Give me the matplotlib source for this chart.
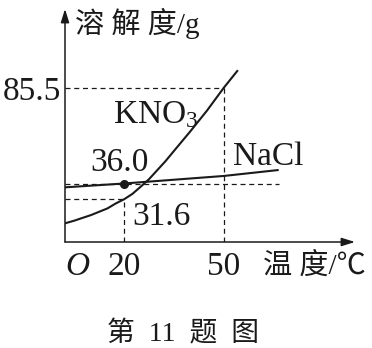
import numpy as np
import matplotlib
matplotlib.use("Agg")
import matplotlib.pyplot as plt

plt.rcParams["mathtext.default"] = "regular"

# solubility curves (schematic)
kno3_temp = [0, 5, 10, 15, 17.5, 20, 22.5, 25, 27.5, 30, 32.5, 35, 40, 45, 50, 54.3]
kno3_sol = [18.4, 20.8, 23.6, 27.0, 29.5, 31.6, 33.1, 35.1, 38.2, 42.9, 47.6, 52.8,
            63.1, 73.8, 85.5, 94.7]
nacl_temp = [0, 20, 50, 66.6]
nacl_sol = [34.8, 36.0, 39.9, 43.0]

# marked values
t_marks = [20, 50]
kno3_20, kno3_50, nacl_20 = 31.6, 85.5, 36.0

# the figure is a sketch: y axis is stretched between the marked values
y_knots = [10, 31.6, 36.0, 85.5, 126.4]
y_pos = [0, 42.7, 58.5, 154, 233]


def fwd(v):
    return np.interp(v, y_knots, y_pos)


def inv(p):
    return np.interp(p, y_pos, y_knots)


W, H = 372, 348
ink = "#1a1a1a"
serif = ["Liberation Serif", "Noto Sans CJK SC", "DejaVu Sans"]


def fp(x, y):
    # pixel position -> figure fraction
    return x / W, 1 - y / H


fig = plt.figure(figsize=(W / 100, H / 100), dpi=100)
ax = fig.add_axes([65 / W, 1 - 242 / H, (355 - 65) / W, (242 - 9) / H])
ax.set_yscale("function", functions=(fwd, inv))
xlo, xhi = 2.2, 89.6
ax.set_xlim(xlo, xhi)
ax.set_ylim(y_knots[0], y_knots[-1])
for s in ax.spines.values():
    s.set_visible(False)
ax.set_xticks([])
ax.set_yticks([])
ax.yaxis.set_minor_locator(matplotlib.ticker.NullLocator())

# axes with arrows
arrow = dict(arrowstyle="-|>,head_length=0.8,head_width=0.25", lw=1.1,
             color=ink, shrinkA=0, shrinkB=0, mutation_scale=10)
ax.annotate("", xy=(1, 0), xytext=(0, 0), xycoords="axes fraction", arrowprops=arrow)
ax.annotate("", xy=(0, 1), xytext=(0, 0), xycoords="axes fraction", arrowprops=arrow)

# guide lines
dash = dict(color=ink, lw=0.9, linestyle=(0, (4, 3)))
ax.plot([xlo, t_marks[1]], [kno3_50, kno3_50], **dash)
ax.plot([xlo, nacl_temp[-1]], [nacl_20, nacl_20], **dash)
ax.plot([xlo, t_marks[0]], [kno3_20, kno3_20], **dash)
ax.plot([t_marks[0], t_marks[0]], [y_knots[0], kno3_20], **dash)
ax.plot([t_marks[1], t_marks[1]], [y_knots[0], kno3_50], **dash)

# curves
ax.plot(kno3_temp, kno3_sol, color=ink, lw=1.5, solid_capstyle="butt", solid_joinstyle="round")
ax.plot(nacl_temp, nacl_sol, color=ink, lw=1.5, solid_capstyle="butt")
ax.plot([t_marks[0]], [nacl_20], "o", color=ink, ms=5.5)

# labels
fig.text(*fp(75, 33), "溶 解 度/g", fontsize=21, family=serif, color=ink)
fig.text(*fp(61, 100), "85.5", fontsize=24, family=serif, ha="right", color=ink)
fig.text(*fp(113, 123), "KNO$_3$", fontsize=24, family=serif, color=ink)
fig.text(*fp(90, 171), "36.0", fontsize=24, family=serif, color=ink)
fig.text(*fp(233, 165), "NaCl", fontsize=24, family=serif, color=ink)
fig.text(*fp(132, 225), "31.6", fontsize=24, family=serif, color=ink)
fig.text(*fp(65, 275), "O", fontsize=24, family=serif, style="italic", color=ink)
tx = ax.get_xaxis_transform()
for t in t_marks:
    ax.text(t, -33 / 233, str(t), transform=tx, fontsize=24,
            family=serif, ha="center", va="baseline", color=ink)
fig.text(*fp(263, 274), "温 度/℃", fontsize=21, family=serif, color=ink)
fig.text(*fp(183, 341), "第  11  题  图", fontsize=20, family=serif, ha="center", color=ink)

fig.savefig("out.png", dpi=100, facecolor="white")
